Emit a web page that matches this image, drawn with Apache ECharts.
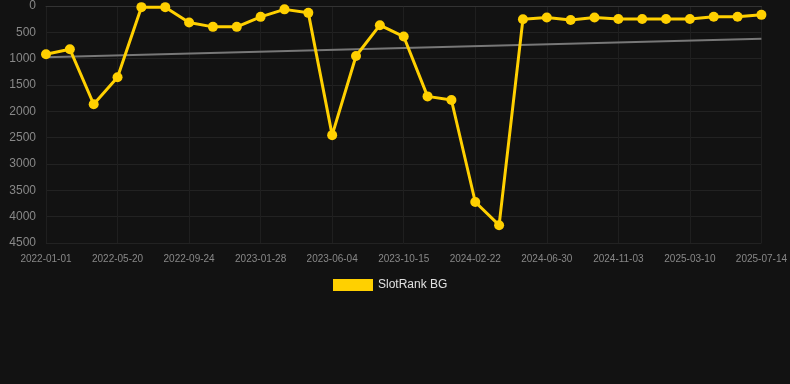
<!DOCTYPE html>
<html><head><meta charset="utf-8">
<script src="https://cdn.jsdelivr.net/npm/echarts@6/dist/echarts.min.js"></script>
<style>html,body{margin:0;padding:0;background:#121212;}#c{width:790px;height:384px;}</style>
</head><body><div id="c"></div>
<script>
const categories = ["2022-01-01","2022-02-16","2022-04-04","2022-05-20","2022-07-01","2022-08-12","2022-09-24","2022-11-05","2022-12-17","2023-01-28","2023-03-12","2023-04-23","2023-06-04","2023-07-18","2023-08-31","2023-10-15","2023-11-26","2024-01-09","2024-02-22","2024-04-05","2024-05-18","2024-06-30","2024-08-11","2024-09-22","2024-11-03","2024-12-16","2025-01-27","2025-03-10","2025-04-21","2025-06-02","2025-07-14"];
const rankValues = [915,820,1865,1352,22,22,312,396,396,206,64,130,2452,949,364,580,1716,1785,3721,4162,250,220,266,220,247,247,247,247,205,205,168];
const trendStart = 972;
const trendEnd = 620;
const seriesName = "SlotRank BG";

const chart = echarts.init(document.getElementById('c'));
const trendData = categories.map((c, i) => i === 0 ? trendStart : (i === categories.length - 1 ? trendEnd : null));
chart.setOption({
  backgroundColor: '#121212',
  animation: false,
  grid: { left: 46, right: 28, top: 6, bottom: 141 },
  legend: {
    data: [{ name: seriesName, icon: 'rect' }],
    top: 274, left: 328,
    itemWidth: 40, itemHeight: 12,
    textStyle: { color: '#e0e0e0', fontSize: 12, fontFamily: 'Arial, Liberation Sans, sans-serif' }
  },
  xAxis: {
    type: 'category', data: categories, boundaryGap: false,
    axisLine: { lineStyle: { color: '#333' } },
    axisTick: { show: false },
    axisLabel: { interval: 2, color: '#888', fontSize: 10, margin: 11, fontFamily: 'Arial, Liberation Sans, sans-serif' },
    splitLine: { show: true, interval: 2, lineStyle: { color: '#1f1f1f' } }
  },
  yAxis: {
    type: 'value', inverse: true, min: 0, max: 4500, interval: 500,
    axisLine: { show: false }, axisTick: { show: false },
    axisLabel: { color: '#888', fontSize: 12, margin: 10, formatter: v => String(v), fontFamily: 'Arial, Liberation Sans, sans-serif' },
    splitLine: { lineStyle: { color: '#222' } }
  },
  series: [
    {
      name: 'trend', type: 'line', data: trendData, connectNulls: true,
      symbol: 'none', lineStyle: { color: '#777', width: 2 }, z: 1, silent: true
    },
    {
      name: seriesName, type: 'line', data: rankValues,
      symbol: 'circle', symbolSize: 10,
      itemStyle: { color: '#FFD000' },
      lineStyle: { color: '#FFD000', width: 3 }, z: 3
    }
  ]
});
</script></body></html>
